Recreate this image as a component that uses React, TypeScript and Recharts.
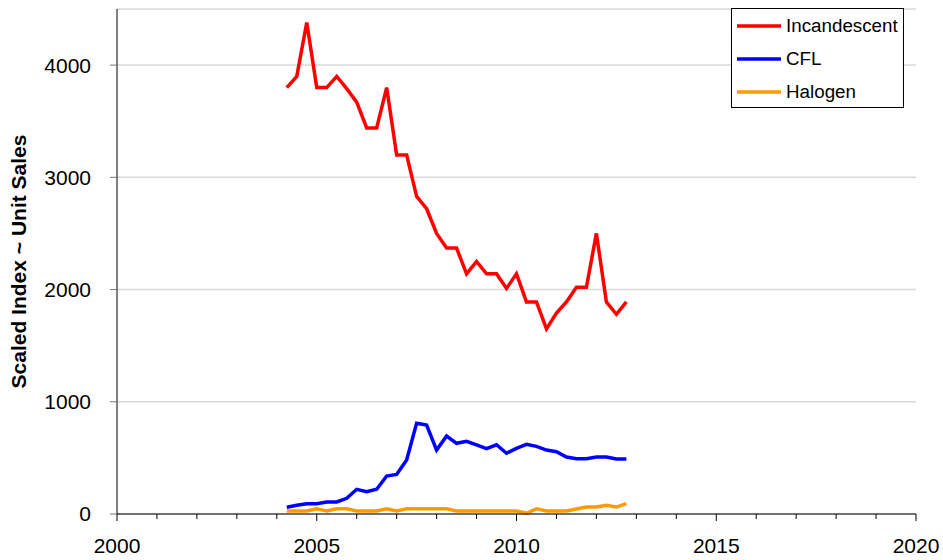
import React from 'react';
import { LineChart, Line, XAxis, YAxis, CartesianGrid, Legend, Label } from 'recharts';

const FONT = "Arial, 'Liberation Sans', sans-serif";

const seriesNames = ['Incandescent', 'CFL', 'Halogen'];

const quarters = [
  2004.25, 2004.5, 2004.75, 2005, 2005.25, 2005.5, 2005.75, 2006, 2006.25, 2006.5, 2006.75, 2007,
  2007.25, 2007.5, 2007.75, 2008, 2008.25, 2008.5, 2008.75, 2009, 2009.25, 2009.5, 2009.75, 2010,
  2010.25, 2010.5, 2010.75, 2011, 2011.25, 2011.5, 2011.75, 2012, 2012.25, 2012.5, 2012.75,
];

const incandescent = [
  3800, 3900, 4380, 3800, 3800, 3900, 3790, 3670, 3440, 3440, 3800, 3200,
  3200, 2830, 2720, 2500, 2370, 2370, 2140, 2250, 2140, 2140, 2010, 2140,
  1890, 1890, 1650, 1790, 1890, 2020, 2020, 2500, 1890, 1780, 1890,
];

const cfl = [
  60, 78, 92, 92, 107, 107, 140, 220, 199, 220, 338, 353,
  481, 808, 793, 570, 695, 630, 648, 615, 582, 617, 541, 585,
  621, 603, 570, 555, 508, 493, 493, 508, 508, 490, 490,
];

const halogen = [
  27, 27, 27, 47, 27, 47, 47, 27, 27, 27, 47, 27,
  47, 47, 47, 47, 47, 27, 27, 27, 27, 27, 27, 27,
  6, 47, 27, 27, 27, 45, 62, 62, 77, 62, 92,
];

const yearTicks = [
  2000, 2001, 2002, 2003, 2004, 2005, 2006, 2007, 2008, 2009, 2010,
  2011, 2012, 2013, 2014, 2015, 2016, 2017, 2018, 2019, 2020,
];
const valueTicks = [0, 1000, 2000, 3000, 4000];

const data = quarters.map((t, i) => ({
  t,
  Incandescent: incandescent[i],
  CFL: cfl[i],
  Halogen: halogen[i],
}));

const YearTick = (props: any) => {
  const { x, y, payload } = props;
  const major = payload.value % 5 === 0;
  return (
    <g>
      <line x1={x} y1={y} x2={x} y2={y + (major ? 7 : 5)} stroke="#000" strokeWidth={1} />
      {major && (
        <text x={x} y={y + 39} textAnchor="middle" fill="#000" fontSize={21} fontFamily={FONT}>
          {payload.value}
        </text>
      )}
    </g>
  );
};

const LegendBox = (props: any) => {
  const items = [...(props.payload || [])].sort(
    (a: any, b: any) => seriesNames.indexOf(a.value) - seriesNames.indexOf(b.value)
  );
  return (
    <div
      style={{
        width: 173,
        height: 100,
        boxSizing: 'border-box',
        border: '1px solid #000',
        background: '#fff',
        fontFamily: FONT,
        fontSize: 18.8,
        color: '#000',
      }}
    >
      {items.map((p: any) => (
        <div key={p.value} style={{ height: 33, display: 'flex', alignItems: 'center' }}>
          <svg width={44} height={4} style={{ marginLeft: 5 }}>
            <line x1={0} y1={2} x2={44} y2={2} stroke={p.color} strokeWidth={3.5} />
          </svg>
          <span style={{ marginLeft: 5 }}>{p.value}</span>
        </div>
      ))}
    </div>
  );
};

const AxisTitle = (props: any) => {
  const { viewBox } = props;
  const cx = viewBox.x + 18;
  const cy = viewBox.y + viewBox.height / 2;
  return (
    <text
      x={cx}
      y={cy}
      transform={`rotate(-90 ${cx} ${cy})`}
      textAnchor="middle"
      dominantBaseline="central"
      fontFamily={FONT}
      fontSize={21}
      fontWeight="bold"
      fill="#000"
    >
      Scaled Index ~ Unit Sales
    </text>
  );
};

export default function App() {
  return (
    <div style={{ position: 'absolute', left: 0, top: 0, background: '#fff' }}>
      <LineChart width={943} height={560} data={data} margin={{ top: 9, right: 27, left: 0, bottom: 0 }}>
        <CartesianGrid vertical={false} stroke="#d9d9d9" strokeWidth={1.5} />
        <XAxis
          dataKey="t"
          type="number"
          domain={[2000, 2020]}
          ticks={yearTicks}
          interval={0}
          height={46}
          tickSize={0}
          tickMargin={0}
          tickLine={false}
          axisLine={{ stroke: '#000' }}
          tick={<YearTick />}
        />
        <YAxis
          type="number"
          domain={[0, 4500]}
          ticks={valueTicks}
          interval={0}
          width={117}
          tickSize={7}
          tickMargin={19}
          tickLine={{ stroke: '#777' }}
          axisLine={{ stroke: '#000' }}
          tick={{ fill: '#000', fontSize: 21, fontFamily: FONT }}
        >
          <Label content={<AxisTitle />} />
        </YAxis>
        <Legend
          layout="vertical"
          align="center"
          verticalAlign="middle"
          content={<LegendBox />}
          wrapperStyle={{ left: 731, top: 8, width: 173, height: 100 }}
        />
        <Line type="linear" dataKey="Incandescent" stroke="#FF0000" strokeWidth={3.5} dot={false} isAnimationActive={false} />
        <Line type="linear" dataKey="CFL" stroke="#0000FF" strokeWidth={3.5} dot={false} isAnimationActive={false} />
        <Line type="linear" dataKey="Halogen" stroke="#FF9900" strokeWidth={3.5} dot={false} isAnimationActive={false} />
      </LineChart>
    </div>
  );
}
